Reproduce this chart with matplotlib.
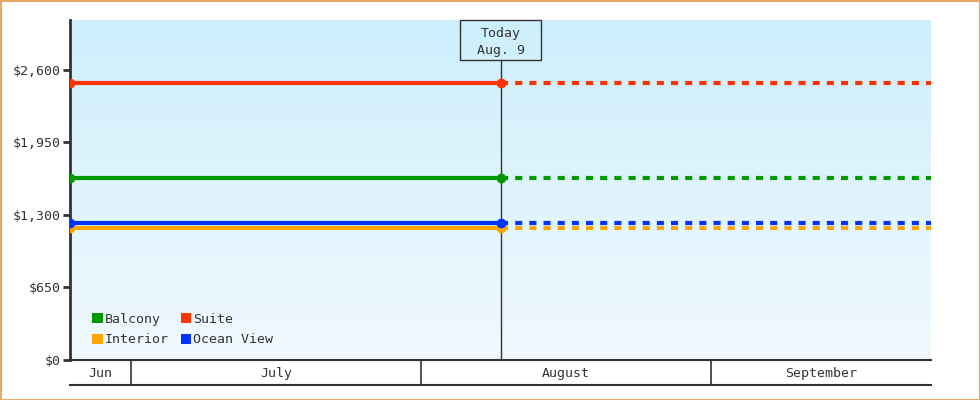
import numpy as np
import matplotlib
matplotlib.use("Agg")
import matplotlib.pyplot as plt
import matplotlib.dates as mdates
from matplotlib.patches import Patch, Rectangle
from matplotlib.ticker import FuncFormatter
from datetime import datetime

# cabin price data
categories = ["Balcony", "Interior", "Suite", "Ocean View"]
prices = [1630, 1185, 2480, 1230]
colors = ["#009900", "#ffa500", "#ff3300", "#0033ff"]

start = datetime(2019, 6, 24, 12)
today = datetime(2019, 8, 9, 12)
end = datetime(2019, 9, 24, 12)
month_starts = [datetime(2019, 7, 1), datetime(2019, 8, 1), datetime(2019, 9, 1)]
month_names = ["Jun", "July", "August", "September"]

y_ticks = [0, 650, 1300, 1950, 2600]
y_max = 3048

plt.rcParams['font.family'] = ['DejaVu Sans Mono']
txt = "#333333"

fig = plt.figure(figsize=(9.8, 4), dpi=100, facecolor="white",
                 edgecolor="#e8a866", linewidth=2)
ax = fig.add_axes([70/980, 40/400, 861/980, 340/400])

x0, x1 = mdates.date2num(start), mdates.date2num(end)
xt = mdates.date2num(today)

# gradient background
grad = np.linspace(0, 1, 256).reshape(-1, 1)
cmap = matplotlib.colors.LinearSegmentedColormap.from_list("bg", ["#cdeffc", "#f1f9fe"])
ax.imshow(grad, aspect="auto", cmap=cmap, extent=[x0, x1, 0, y_max],
          origin="upper", zorder=0)

for name, p, c in zip(categories, prices, colors):
    ax.plot([x0, xt], [p, p], color=c, lw=3, marker="o", ms=6, zorder=3,
            solid_capstyle="butt")
    ax.plot([xt, x1], [p, p], color=c, lw=3, ls=(0, (1.7, 1.7)), zorder=3)

# today marker with label box
ax.plot([xt, xt], [0, y_max * (300 / 340)], color=txt, lw=1, zorder=2)
bw = 81 / 861
ax_xt = (xt - x0) / (x1 - x0)
ax.add_patch(Rectangle((ax_xt - bw / 2, 300 / 340), bw, 40 / 340,
                       transform=ax.transAxes, fc="none", ec=txt, lw=1,
                       zorder=4, clip_on=False))
ax.text(xt, y_max * (318 / 340), "Today\nAug. 9", ha="center", va="center",
        fontsize=9.5, color=txt, linespacing=1.45, zorder=4)

ax.set_xlim(x0, x1)
ax.set_ylim(0, y_max)
ax.set_yticks(y_ticks)
ax.yaxis.set_major_formatter(FuncFormatter(lambda v, pos: "${:,.0f}".format(v)))
ax.tick_params(axis="y", length=5, width=2, color=txt, labelcolor=txt,
               labelsize=9.5, pad=2)
ax.set_xticks([])
for s in ["top", "right"]:
    ax.spines[s].set_visible(False)
ax.spines["left"].set_color(txt)
ax.spines["left"].set_linewidth(2)
ax.spines["bottom"].set_color(txt)
ax.spines["bottom"].set_linewidth(1.5)

handles = [Patch(facecolor=c, edgecolor="none") for c in colors]
ax.legend(handles, categories, loc="lower left", bbox_to_anchor=(0.012, 0.005),
          ncol=2, frameon=False, handlelength=0.8, handleheight=0.8,
          handletextpad=0.15, columnspacing=0.9, labelspacing=0.6,
          fontsize=9.5, labelcolor=txt)

# month band below the chart
band = fig.add_axes([70/980, 15/400, 861/980, 25/400], sharex=ax)
band.set_ylim(0, 1)
band.set_xlim(x0, x1)
bounds = [x0] + [mdates.date2num(m) for m in month_starts] + [x1]
for b in bounds[1:-1]:
    band.axvline(b, color=txt, lw=1.2)
for i, name in enumerate(month_names):
    band.text((bounds[i] + bounds[i + 1]) / 2, 0.45, name, ha="center",
              va="center", fontsize=9.5, color=txt)
band.set_xticks([])
band.set_yticks([])
band.patch.set_visible(False)
for s in ["left", "right", "top"]:
    band.spines[s].set_visible(False)
band.spines["bottom"].set_color(txt)
band.spines["bottom"].set_linewidth(1.5)

fig.savefig("out.png", dpi=100, facecolor=fig.get_facecolor(),
            edgecolor=fig.get_edgecolor())
